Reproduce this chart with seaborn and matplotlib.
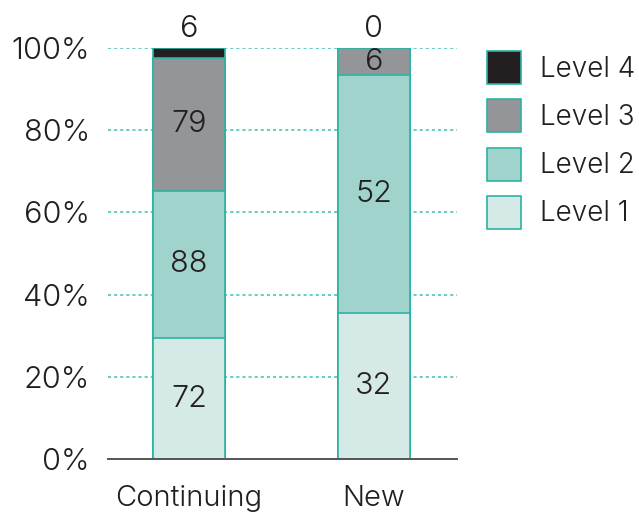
import matplotlib
matplotlib.use("Agg")
import matplotlib.pyplot as plt
from matplotlib.patches import Patch
import numpy as np
import pandas as pd
import seaborn as sns

# Student counts per group and level
groups = ["Continuing", "New"]
levels = ["Level 1", "Level 2", "Level 3", "Level 4"]
level1 = [72, 32]
level2 = [88, 52]
level3 = [79, 6]
level4 = [6, 0]

colors = {"Level 1": "#d5e9e6", "Level 2": "#9fd3cc",
          "Level 3": "#939598", "Level 4": "#231f20"}
edge = "#2bb3a3"
text_c = "#231f20"

sns.set_theme(style="white")
plt.rcParams["font.family"] = ["Inter", "DejaVu Sans"]
plt.rcParams["font.weight"] = 300
FS = 22
FS_X = 21
FS_LEG = 20

counts = np.array([level1, level2, level3, level4], dtype=float)
totals = counts.sum(axis=0)
shares = counts / totals
cum = np.cumsum(shares, axis=0)

fig = plt.figure(figsize=(6.39, 5.16), dpi=100)
ax = fig.add_axes([108 / 639, 1 - 459 / 516, (457 - 108) / 639, (459 - 48) / 516])

# Draw cumulative bars from the top level down so each segment sits on the one below
for i in range(len(levels) - 1, -1, -1):
    df = pd.DataFrame({"group": groups, "value": cum[i]})
    sns.barplot(data=df, x="group", y="value", order=groups, ax=ax,
                color=colors[levels[i]], edgecolor=edge, linewidth=1.2,
                width=0.39, saturation=1, errorbar=None, zorder=2)

# Segment labels
for j in range(len(groups)):
    for i in range(3):
        lo = cum[i - 1, j] if i > 0 else 0.0
        ax.text(j, (lo + cum[i, j]) / 2, f"{int(counts[i, j])}", ha="center",
                va="center", fontsize=FS, color=text_c, zorder=3)
    ax.text(j, 1.0 + 0.047, f"{int(counts[3, j])}", ha="center", va="center",
            fontsize=FS, color=text_c, clip_on=False, zorder=3)

ax.set_ylim(0, 1)
ax.set_xlim(-0.438, 1.449)
ax.set_yticks([0, 0.2, 0.4, 0.6, 0.8, 1.0])
ax.set_yticklabels(["0%", "20%", "40%", "60%", "80%", "100%"])
ax.set_xlabel("")
ax.set_ylabel("")
ax.tick_params(axis="both", length=0, labelsize=FS, colors=text_c)
ax.tick_params(axis="x", labelsize=FS_X, pad=19)
ax.tick_params(axis="y", pad=13)

for y in [0.2, 0.4, 0.6, 0.8, 1.0]:
    ax.axhline(y, color="#3cbfb0", linestyle=(0, (2, 2)), linewidth=1.1, zorder=0)

for s in ["top", "right", "left"]:
    ax.spines[s].set_visible(False)
ax.spines["bottom"].set_color("#555555")
ax.spines["bottom"].set_linewidth(1.4)
ax.spines["bottom"].set_zorder(4)

handles = [Patch(facecolor=colors[l], edgecolor=edge, linewidth=1.2, label=l)
           for l in reversed(levels)]
fig.legend(handles=handles, loc="upper left",
           bbox_to_anchor=(487 / 639, 1 - 51 / 516), frameon=False,
           fontsize=FS_LEG, handlelength=1.22, handleheight=1.45,
           handletextpad=0.7, labelspacing=0.55, borderpad=0,
           borderaxespad=0, labelcolor=text_c)

fig.savefig("out.png", dpi=100)
